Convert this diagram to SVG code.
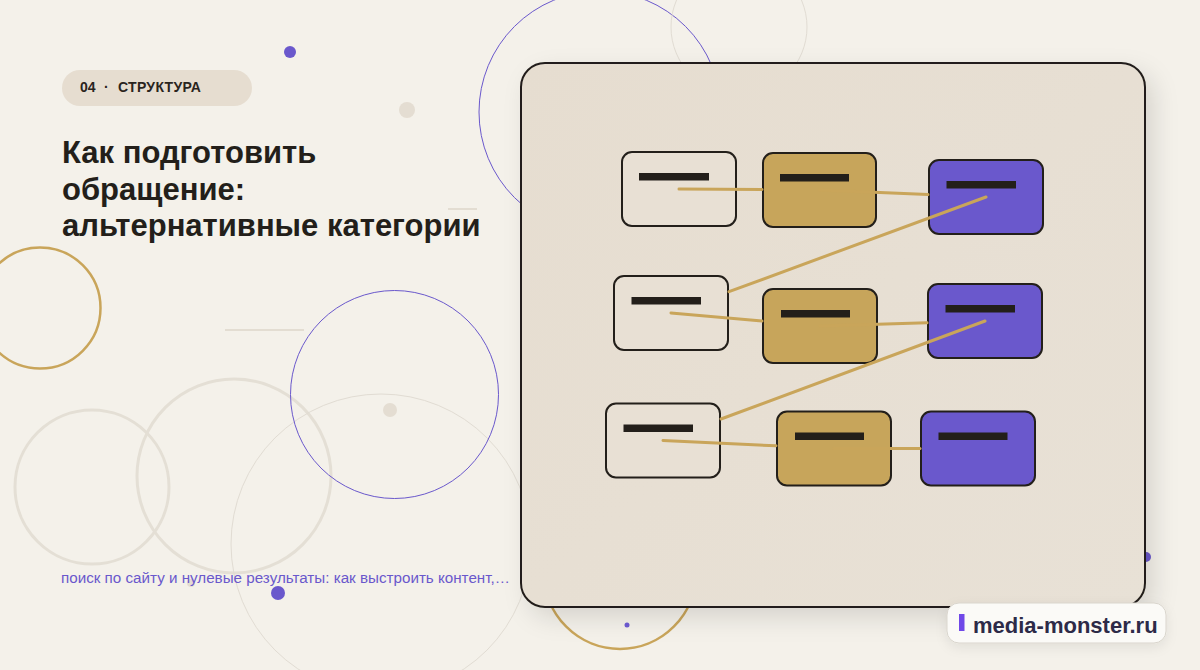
<svg xmlns="http://www.w3.org/2000/svg" width="1200" height="670" viewBox="0 0 1200 670">
  <defs>
    <filter id="shadow" x="-10%" y="-10%" width="125%" height="130%">
      <feDropShadow dx="8" dy="10" stdDeviation="12" flood-color="#000" flood-opacity="0.12"/>
    </filter>
    <filter id="bshadow" x="-10%" y="-30%" width="120%" height="180%">
      <feDropShadow dx="0" dy="4" stdDeviation="6" flood-color="#000" flood-opacity="0.08"/>
    </filter>
    <linearGradient id="panelg" x1="0" y1="0" x2="1" y2="1">
      <stop offset="0" stop-color="#e6ddd0"/>
      <stop offset="1" stop-color="#e8e1d6"/>
    </linearGradient>
  </defs>
  <style>
    .bg { fill: #f4f1ea; }
    .deco-gray { fill: none; stroke: #e4dfd5; stroke-width: 3; }
    .deco-thin { fill: none; stroke: #e1dcd3; stroke-width: 1; }
    .deco-blue { fill: none; stroke: #6a58cc; stroke-width: 1; }
    .deco-gold { fill: none; stroke: #c9a55a; stroke-width: 2.5; }
    .dot-blue { fill: #6a58cc; }
    .dot-gray { fill: #e4ddd2; }
    .hline { stroke: #e3ddd2; stroke-width: 2; }
    .node rect.box { stroke: #231f1a; stroke-width: 2; }
    .light { fill: #e8e0d4; }
    .gold { fill: #c7a55b; }
    .purple { fill: #6a58cc; }
    .bar { fill: #231f1a; }
    .edge { stroke: #c9a55a; stroke-width: 3; fill: none; stroke-linecap: round; }
    .sans { font-family: "Liberation Sans", Arial, sans-serif; }
  </style>

  <rect class="bg" x="0" y="0" width="1200" height="670"/>

  <!-- decorative background -->
  <g id="decor">
    <circle class="deco-blue" cx="600" cy="112" r="121"/>
    <circle class="deco-thin" cx="739" cy="27" r="68"/>
    <circle class="deco-gold" cx="40" cy="308" r="60.5"/>
    <circle class="deco-gray" cx="92" cy="487" r="77"/>
    <circle class="deco-gray" cx="234" cy="476" r="97"/>
    <circle class="deco-thin" cx="381" cy="544" r="150"/>
    <circle class="deco-blue" cx="394.5" cy="394.5" r="104"/>
    <circle class="deco-gold" cx="620" cy="573" r="76" stroke-width="3"/>
    <line class="hline" x1="225" y1="330" x2="304" y2="330"/>
    <line class="hline" x1="448" y1="209" x2="477" y2="209"/>
    <circle class="dot-blue" cx="290" cy="52" r="6"/>
    <circle class="dot-gray" cx="407" cy="110" r="8"/>
    <circle class="dot-gray" cx="390" cy="410" r="7"/>
    <circle class="dot-gray" cx="191" cy="583" r="4"/>
    <circle class="dot-blue" cx="278" cy="593" r="7"/>
    <circle class="dot-blue" cx="1146" cy="557" r="5"/>
  </g>

  <!-- left text -->
  <g id="tag">
    <rect x="62" y="70" width="190" height="36" rx="18" fill="#e6ddd0"/>
    <text class="sans" y="92" font-size="14" font-weight="700" fill="#2a241d"><tspan x="80">04</tspan><tspan x="104">·</tspan><tspan x="118" letter-spacing="0.3">СТРУКТУРА</tspan></text>
  </g>
  <g id="title">
    <text class="sans" x="62" font-size="31" font-weight="700" fill="#231f1a">
      <tspan x="62" y="163">Как подготовить</tspan>
      <tspan x="62" y="200">обращение:</tspan>
      <tspan x="62" y="236">альтернативные категории</tspan>
    </text>
  </g>
  <g id="subtitle">
    <text class="sans" x="61" y="583" font-size="15.2" fill="#6a58cc">поиск по сайту и нулевые результаты: как выстроить контент,…</text>
  </g>

  <!-- panel -->
  <g id="panel">
    <rect x="521" y="63" width="624" height="544" rx="24" fill="url(#panelg)" stroke="#231f1a" stroke-width="2" filter="url(#shadow)"/>
    <circle class="dot-blue" cx="627" cy="625" r="2.5"/>
  </g>

  <!-- nodes -->
  <g id="node-a1" class="node"><rect class="box light" x="622" y="152" width="114" height="74" rx="10"/><rect class="bar" x="639" y="173" width="70" height="7.5"/></g>
  <g id="node-b1" class="node"><rect class="box gold" x="763" y="153" width="113" height="74" rx="10"/><rect class="bar" x="780" y="174" width="69" height="7.5"/></g>
  <g id="node-c1" class="node"><rect class="box purple" x="929" y="160" width="114" height="74" rx="10"/><rect class="bar" x="946.5" y="181" width="69.5" height="7.5"/></g>
  <g id="node-a2" class="node"><rect class="box light" x="614" y="276" width="114" height="74" rx="10"/><rect class="bar" x="631.5" y="297" width="69.5" height="7.5"/></g>
  <g id="node-b2" class="node"><rect class="box gold" x="763" y="289" width="114" height="74" rx="10"/><rect class="bar" x="781" y="310" width="69" height="7.5"/></g>
  <g id="node-c2" class="node"><rect class="box purple" x="928" y="284" width="114" height="74" rx="10"/><rect class="bar" x="945.5" y="305" width="69.5" height="7.5"/></g>
  <g id="node-a3" class="node"><rect class="box light" x="606" y="403.5" width="114" height="74" rx="10"/><rect class="bar" x="623.5" y="424.5" width="69.5" height="7.5"/></g>
  <g id="node-b3" class="node"><rect class="box gold" x="777" y="411.5" width="114" height="74" rx="10"/><rect class="bar" x="795" y="432.5" width="69" height="7.5"/></g>
  <g id="node-c3" class="node"><rect class="box purple" x="921" y="411.5" width="114" height="74" rx="10"/><rect class="bar" x="938.5" y="432.5" width="69" height="7.5"/></g>

  <!-- connectors -->
  <g id="connectors">
    <line class="edge" x1="679" y1="189" x2="762" y2="189.6"/>
    <line class="edge" x1="819.5" y1="190" x2="928" y2="194.6"/>
    <line class="edge" x1="986" y1="197" x2="729" y2="291.7"/>
    <line class="edge" x1="671" y1="313" x2="762" y2="321"/>
    <line class="edge" x1="820" y1="326" x2="927" y2="322.7"/>
    <line class="edge" x1="985" y1="321" x2="721" y2="419"/>
    <line class="edge" x1="663" y1="440.5" x2="776" y2="445.8"/>
    <line class="edge" x1="834" y1="448.5" x2="920" y2="448.5"/>
  </g>

  <!-- badge -->
  <g id="badge">
    <rect x="947" y="603" width="219" height="40" rx="12" fill="#fbfaf7" stroke="#d9d5cd" stroke-width="1" filter="url(#bshadow)"/>
    <rect x="959" y="614" width="5.5" height="17" fill="#7048e8"/>
    <text class="sans" x="973" y="633" font-size="22" font-weight="700" fill="#2d2a48">media-monster.ru</text>
  </g>
</svg>
